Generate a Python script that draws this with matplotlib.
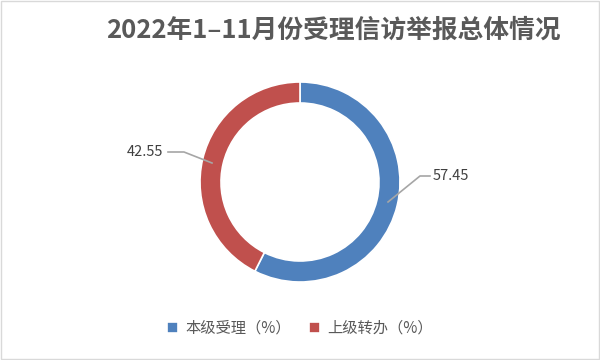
import matplotlib
matplotlib.use("Agg")
import matplotlib.pyplot as plt
from matplotlib.patches import Rectangle
import numpy as np

plt.rcParams['font.family'] = ['Noto Sans CJK SC', 'DejaVu Sans']

title = "2022年1–11月份受理信访举报总体情况"
categories = ["本级受理（%）", "上级转办（%）"]
values = [57.45, 42.55]
colors = ["#4F81BD", "#C0504D"]

fig = plt.figure(figsize=(6, 3.6), dpi=100)
fig.patch.set_facecolor("white")
fig.add_artist(Rectangle((0.002, 0.002), 0.996, 0.994, transform=fig.transFigure,
                         fill=False, edgecolor="#D9D9D9", linewidth=1))

r_px = 100
cx, cy = 300, 182
ax = fig.add_axes([(cx - r_px) / 600, (360 - cy - r_px) / 360, 2 * r_px / 600, 2 * r_px / 360])
wedges, _ = ax.pie(values, colors=colors, startangle=90, counterclock=False,
                   radius=1.0, wedgeprops=dict(width=0.21, edgecolor="white", linewidth=1.2))
ax.set_aspect("equal")
ax.set_xlim(-1, 1)
ax.set_ylim(-1, 1)
ax.axis("off")

def px2d(x, y):
    return ((x - cx) / r_px, (cy - y) / r_px)

p0 = px2d(388, 202); p1 = px2d(420, 176); p2 = px2d(430, 176)
ax.plot([p0[0], p1[0], p2[0]], [p0[1], p1[1], p2[1]], color="#A6A6A6", lw=1.2, clip_on=False)
t = px2d(433, 176)
ax.text(t[0], t[1], f"{values[0]:.2f}", ha="left", va="center", fontsize=10.5, color="#404040", clip_on=False)

q0 = px2d(212, 163); q1 = px2d(184, 152); q2 = px2d(168, 152)
ax.plot([q0[0], q1[0], q2[0]], [q0[1], q1[1], q2[1]], color="#A6A6A6", lw=1.2, clip_on=False)
t = px2d(163, 152)
ax.text(t[0], t[1], f"{values[1]:.2f}", ha="right", va="center", fontsize=10.5, color="#404040", clip_on=False)

fig.text(0.555, 0.915, title, ha="center", va="center", fontsize=18.5, fontweight="bold", color="#595959")

leg = fig.legend(wedges, categories, loc="center", bbox_to_anchor=(0.5, 0.088), ncol=2,
                 frameon=False, fontsize=11, handlelength=0.7, handleheight=0.7,
                 columnspacing=1.2, handletextpad=0.5)
for txt in leg.get_texts():
    txt.set_color("#595959")

fig.savefig("out.png", dpi=100)
